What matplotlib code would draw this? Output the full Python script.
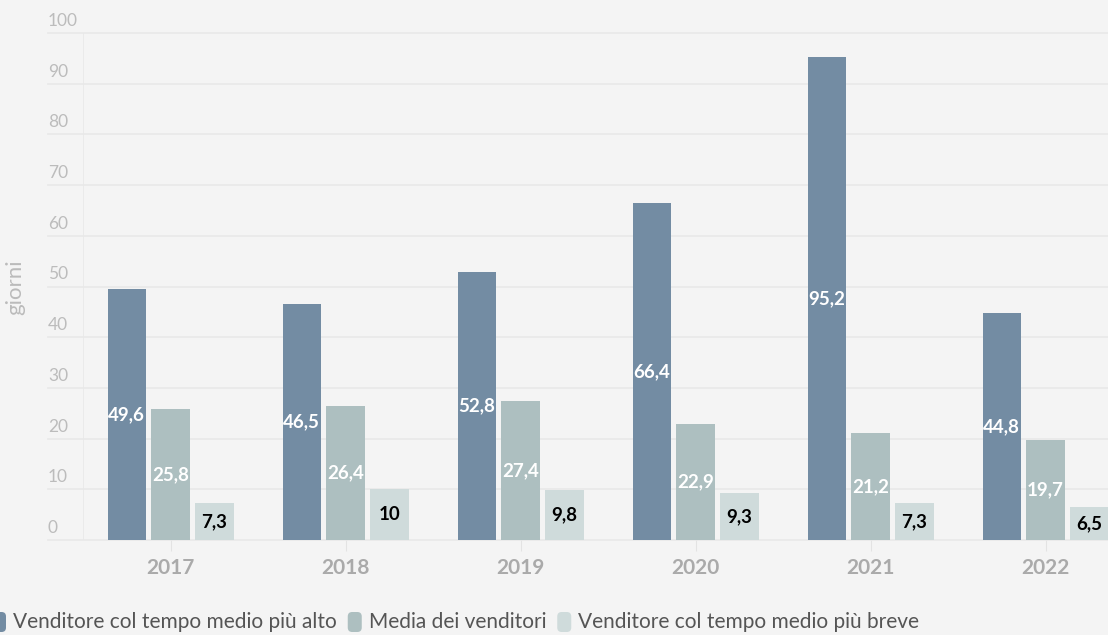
import matplotlib.pyplot as plt
from matplotlib.patches import FancyBboxPatch
import numpy as np

plt.rcParams['font.family'] = ['Lato', 'DejaVu Sans']

years = ['2017', '2018', '2019', '2020', '2021', '2022']
alto = [49.6, 46.5, 52.8, 66.4, 95.2, 44.8]
media = [25.8, 26.4, 27.4, 22.9, 21.2, 19.7]
breve = [7.3, 10, 9.8, 9.3, 7.3, 6.5]
series_names = ['Venditore col tempo medio più alto', 'Media dei venditori',
                'Venditore col tempo medio più breve']

c_alto = '#738ca3'
c_media = '#adbfc0'
c_breve = '#cfdbdb'
bg = '#f4f4f4'

W, H = 1108, 635
fig = plt.figure(figsize=(W / 100, H / 100), dpi=100, facecolor=bg)
# axes extends past the right edge, like the original (last bar is cut)
ax = fig.add_axes([83 / W, (H - 540) / H, 1050 / W, 507 / H])
ax.set_facecolor(bg)

x = np.arange(len(years))
bw = 0.22
off = 0.25


def fmt(v):
    s = ('%.1f' % v).rstrip('0').rstrip('.')
    return s.replace('.', ',')


for vals, dx, col, tcol in [(alto, -off, c_alto, 'white'),
                            (media, 0, c_media, 'white'),
                            (breve, off, c_breve, 'black')]:
    ax.bar(x + dx, vals, width=bw, color=col, zorder=3)
    for xi, v in zip(x, vals):
        ax.text(xi + dx, v / 2, fmt(v), ha='center', va='center',
                color=tcol, fontsize=13.5, fontweight='bold', zorder=4)

ax.set_xlim(-0.5, len(years) - 0.5)
ax.set_ylim(0, 100)

# horizontal gridlines reaching left under the tick labels
for yv in range(0, 101, 10):
    ax.axhline(yv, xmin=-35 / 1050, xmax=1, color='#e8e8e8', lw=1.2,
               clip_on=False, zorder=1)
    ax.text(-35 / 1050, yv + 0.8, str(yv), transform=ax.get_yaxis_transform(),
            ha='left', va='bottom', fontsize=12.5, color='#bcbcbc')
ax.axvline(-0.5, color='#e8e8e8', lw=1.2, zorder=1)

for s in ax.spines.values():
    s.set_visible(False)
ax.set_yticks([])
ax.set_xticks(x)
ax.set_xticklabels(years, fontsize=15, fontweight='bold', color='#aaaaaa')
ax.tick_params(axis='x', length=8, color='#e3e3e3', pad=5)

fig.text(15 / W, 1 - 287 / H, 'giorni', rotation=90, ha='center', va='center',
         fontsize=16, color='#bbbbbb')

# legend drawn by hand: rounded swatches followed by labels
fig.canvas.draw()
r = fig.canvas.get_renderer()
px = -8
ly = 622
for name, col in zip(series_names, (c_alto, c_media, c_breve)):
    sw = FancyBboxPatch((px / W, (H - ly - 10) / H), 14 / W, 20 / H,
                        boxstyle='round,pad=0,rounding_size=0.004',
                        transform=fig.transFigure, facecolor=col,
                        edgecolor='none', mutation_aspect=W / H)
    fig.patches.append(sw)
    t = fig.text((px + 21) / W, 1 - ly / H, name, ha='left', va='center',
                 fontsize=15, color='#555555')
    px = px + 21 + t.get_window_extent(r).width + 11

fig.savefig('out.png', dpi=100, facecolor=bg)
